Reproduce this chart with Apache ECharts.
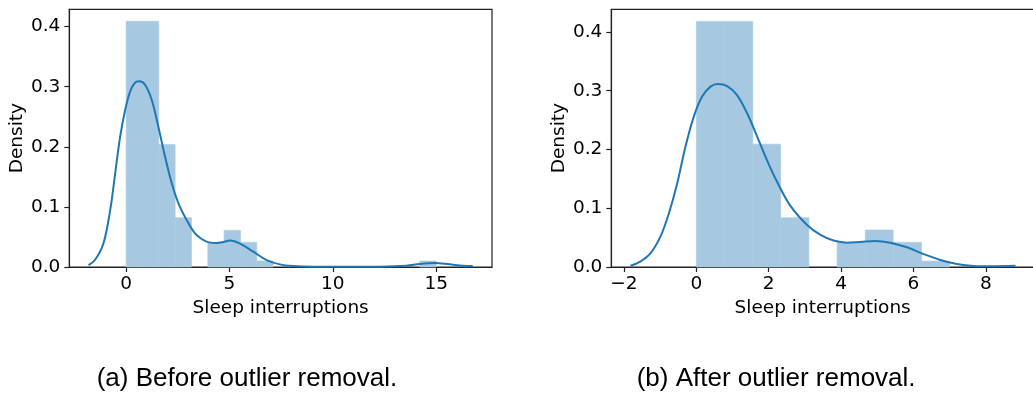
<!DOCTYPE html>
<html>
<head>
<meta charset="utf-8">
<title>Sleep interruptions – density before and after outlier removal</title>
<script src="https://cdn.jsdelivr.net/npm/echarts@6/dist/echarts.min.js"></script>
<style>
  html, body { margin: 0; padding: 0; background: #fff; }
  #chart { width: 1033px; height: 397px; }
</style>
</head>
<body>
<div id="chart"></div>
<script>
// ---- (a) before outlier removal ----
const binEdgesA = [0, 0.79, 1.58, 2.37, 3.16, 3.95, 4.74, 5.53, 6.32, 7.11, 7.89,
                   8.68, 9.47, 10.26, 11.05, 11.84, 12.63, 13.42, 14.21, 15];
const densityA = [0.409, 0.409, 0.204, 0.082, 0, 0.041, 0.061, 0.041, 0.010, 0,
                  0, 0, 0, 0, 0, 0, 0, 0, 0.010];
const kdeXA = [-1.82, -1.5, -1.1, -0.77, -0.53, -0.29, -0.05, 0.19, 0.43, 0.63, 0.92,
               1.24, 1.56, 1.88, 2.21, 2.53, 2.93, 3.33, 3.73, 4.0, 4.38, 4.75, 5.02,
               5.51, 6.15, 6.8, 7.44, 8.08, 9.05, 10.5, 12.27, 13.56, 14.2, 14.93,
               15.65, 16.3, 16.77];
const kdeYA = [0.003, 0.012, 0.039, 0.095, 0.156, 0.217, 0.261, 0.292, 0.307, 0.309, 0.303,
               0.278, 0.233, 0.184, 0.139, 0.106, 0.078, 0.056, 0.045, 0.041, 0.040, 0.042, 0.044,
               0.039, 0.0255, 0.0116, 0.0044, 0.0017, 0.0005, 0.0003, 0.0005, 0.002, 0.005, 0.0066,
               0.0044, 0.0022, 0.0017];
const xTicksA = [0, 5, 10, 15];

// ---- (b) after outlier removal ----
const binEdgesB = [0, 0.78, 1.56, 2.33, 3.11, 3.89, 4.67, 5.44, 6.22, 7];
const densityB = [0.418, 0.418, 0.209, 0.084, 0, 0.042, 0.063, 0.042, 0.010];
const kdeXB = [-1.82, -1.55, -1.27, -0.99, -0.76, -0.53, -0.3, -0.07, 0.16, 0.39, 0.6,
               0.85, 1.12, 1.4, 1.68, 1.95, 2.23, 2.6, 3.06, 3.43, 3.79, 4.16, 4.53,
               4.94, 5.36, 5.82, 6.28, 6.74, 7.2, 7.66, 8.12, 8.82];
const kdeYB = [0.002, 0.009, 0.023, 0.052, 0.091, 0.142, 0.205, 0.256, 0.29, 0.307, 0.3115,
               0.308, 0.293, 0.262, 0.222, 0.182, 0.145, 0.104, 0.0715, 0.0545, 0.045, 0.0414, 0.0426,
               0.0443, 0.0414, 0.0335, 0.022, 0.012, 0.005, 0.0017, 0.0012, 0.002];
const xTicksB = [-2, 0, 2, 4, 6, 8];

const yTicks = [0, 0.1, 0.2, 0.3, 0.4];
const captions = ['(a) Before outlier removal.', '(b) After outlier removal.'];
const xTitle = 'Sleep interruptions';
const yTitle = 'Density';

// ---- styling ----
const FONT = 'DejaVu Sans';
const TICK_FONT = 18.5;
const SPINE = '#222';
const BAR_FILL = 'rgb(166,201,225)';
const LINE = '#1f77b4';

function binRows(edges, dens) {
  const rows = [];
  for (let i = 0; i < dens.length; i++) {
    if (dens[i] > 0) rows.push([edges[i], edges[i + 1], dens[i]]);
  }
  return rows;
}
function zip(xs, ys) { return xs.map((x, i) => [x, ys[i]]); }

function renderBin(params, api) {
  const p0 = api.coord([api.value(0), api.value(2)]);
  const p1 = api.coord([api.value(1), 0]);
  return {
    type: 'rect',
    shape: { x: p0[0], y: p0[1], width: p1[0] - p0[0], height: p1[1] - p0[1] },
    style: { fill: BAR_FILL, stroke: BAR_FILL, lineWidth: 0.6 }
  };
}

function xAxisDef(idx, min, max, ticks) {
  return {
    type: 'value', gridIndex: idx, min: min, max: max,
    name: xTitle, nameLocation: 'middle', nameGap: 31,
    nameTextStyle: { fontFamily: FONT, fontSize: TICK_FONT, color: '#000' },
    axisLine: { show: true, onZero: false, lineStyle: { color: SPINE, width: 1.2 } },
    axisTick: { show: true, length: 5, inside: false, customValues: ticks,
                lineStyle: { color: SPINE, width: 1.2 } },
    axisLabel: { customValues: ticks, margin: 8, fontFamily: FONT, fontSize: TICK_FONT, color: '#000',
                 formatter: v => (v < 0 ? '\u2212' + Math.abs(v) : String(v)) },
    splitLine: { show: false }
  };
}
function yAxisDef(idx, max) {
  return {
    type: 'value', gridIndex: idx, min: 0, max: max,
    name: yTitle, nameLocation: 'middle', nameGap: 40, nameRotate: 90,
    nameTextStyle: { fontFamily: FONT, fontSize: TICK_FONT, color: '#000' },
    axisLine: { show: true, onZero: false, lineStyle: { color: SPINE, width: 1.2 } },
    axisTick: { show: true, length: 5, inside: false, customValues: yTicks,
                lineStyle: { color: SPINE, width: 1.2 } },
    axisLabel: { customValues: yTicks, margin: 9, fontFamily: FONT, fontSize: TICK_FONT, color: '#000',
                 formatter: v => v.toFixed(1) },
    splitLine: { show: false }
  };
}

const gridBase = { top: 9.3, height: 257.7, width: 422.7, show: true,
                   borderColor: SPINE, borderWidth: 1.2, backgroundColor: 'transparent',
                   containLabel: false, outerBoundsMode: 'none' };

const option = {
  animation: false,
  backgroundColor: '#fff',
  grid: [
    Object.assign({ left: 69.3 }, gridBase),
    Object.assign({ left: 611.3 }, gridBase)
  ],
  xAxis: [xAxisDef(0, -2.75, 17.7, xTicksA), xAxisDef(1, -2.35, 9.33, xTicksB)],
  yAxis: [yAxisDef(0, 0.4289), yAxisDef(1, 0.4386)],
  series: [
    { type: 'custom', xAxisIndex: 0, yAxisIndex: 0, renderItem: renderBin,
      encode: { x: [0, 1], y: 2 }, data: binRows(binEdgesA, densityA), z: 1 },
    { type: 'line', xAxisIndex: 0, yAxisIndex: 0, data: zip(kdeXA, kdeYA), smooth: 0.35,
      showSymbol: false, lineStyle: { color: LINE, width: 2 }, z: 2 },
    { type: 'custom', xAxisIndex: 1, yAxisIndex: 1, renderItem: renderBin,
      encode: { x: [0, 1], y: 2 }, data: binRows(binEdgesB, densityB), z: 1 },
    { type: 'line', xAxisIndex: 1, yAxisIndex: 1, data: zip(kdeXB, kdeYB), smooth: 0.35,
      showSymbol: false, lineStyle: { color: LINE, width: 2 }, z: 2 }
  ],
  graphic: [
    { type: 'text', left: 246.7 - 150, top: 366, style: { text: captions[0], width: 300, align: 'center',
      font: '26px "Liberation Sans", Arial, sans-serif', fill: '#000' } },
    { type: 'text', left: 786.7 - 150, top: 366, style: { text: captions[1], width: 300, align: 'center',
      font: '26px "Liberation Sans", Arial, sans-serif', fill: '#000' } }
  ]
};

const chart = echarts.init(document.getElementById('chart'), null, { renderer: 'canvas' });
chart.setOption(option);
</script>
</body>
</html>
